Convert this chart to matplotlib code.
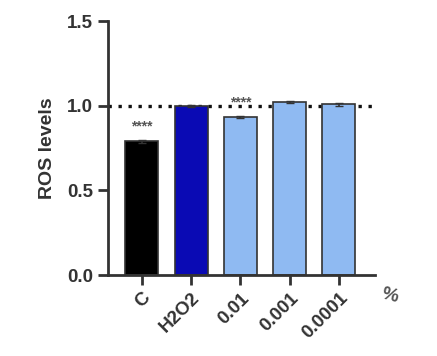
import matplotlib.pyplot as plt

groups = ["C", "H2O2", "0.01", "0.001", "0.0001"]
ros = [0.79, 1.0, 0.935, 1.025, 1.01]
sem = [0.01, 0.005, 0.008, 0.006, 0.008]
colors = ["#000000", "#0a0ab4", "#8fbaf2", "#8fbaf2", "#8fbaf2"]
stars = ["****", "", "****", "", ""]

plt.rcParams["font.family"] = ["Liberation Sans", "DejaVu Sans"]
plt.rcParams["font.weight"] = "bold"

fig = plt.figure(figsize=(4.37, 3.56), dpi=100)
ax = fig.add_axes([0.247, 0.2275, 0.611, 0.7125])

x = list(range(len(groups)))
ax.bar(x, ros, width=0.67, color=colors, edgecolor="#333333", linewidth=1.2,
       yerr=sem, capsize=3, error_kw=dict(ecolor="#333333", elinewidth=1.2))
ax.axhline(1.0, color="#111111", linestyle=(0, (1, 2)), linewidth=2.4, zorder=0)

for xi, v, e, s in zip(x, ros, sem, stars):
    if s:
        ax.text(xi, v + e + 0.035, s, ha="center", va="bottom", fontsize=10,
                color="#555555", fontweight="bold")

ax.set_xlim(-0.69, 4.73)
ax.set_ylim(0, 1.5)
ax.set_yticks([0.0, 0.5, 1.0, 1.5])
ax.set_yticklabels(["0.0", "0.5", "1.0", "1.5"])
ax.set_xticks(x)
ax.set_xticklabels(groups, rotation=45, ha="right", rotation_mode="anchor")
ax.set_ylabel("ROS levels", fontsize=14, fontweight="bold", color="#333333",
              labelpad=8)

for side in ["top", "right"]:
    ax.spines[side].set_visible(False)
for side in ["left", "bottom"]:
    ax.spines[side].set_linewidth(2)
    ax.spines[side].set_color("#333333")
ax.tick_params(width=2, length=7, color="#333333", labelsize=13.5,
               labelcolor="#333333")

fig.text(0.893, 0.17, "%", fontsize=13.5, fontweight="bold", color="#555555",
         rotation=-15, ha="center", va="center")

fig.savefig("out.png", dpi=100)
